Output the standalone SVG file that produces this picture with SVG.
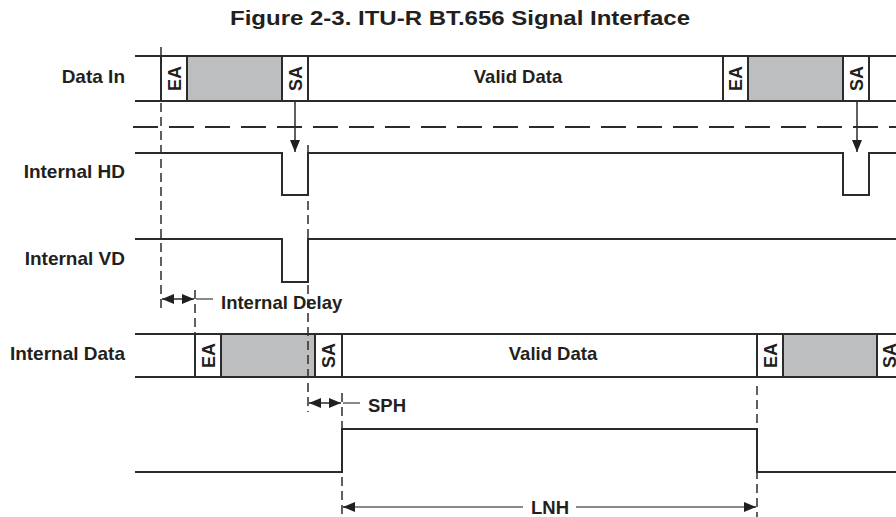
<svg xmlns="http://www.w3.org/2000/svg" width="896" height="517" viewBox="0 0 896 517">
<defs>
<marker id="ah" markerUnits="userSpaceOnUse" markerWidth="12" markerHeight="10" refX="12" refY="5" orient="auto-start-reverse"><path d="M0,0 L12,5 L0,10 z" fill="#231f20"/></marker>
<style>
.t{font-family:"Liberation Sans",Arial,sans-serif;font-weight:bold;font-size:18.5px;fill:#231f20}
.lbl{text-anchor:end;font-size:19px}
.box{font-size:18px;text-anchor:middle}
.sig{fill:none;stroke:#2b2b2b;stroke-width:2}
.v{stroke:#2b2b2b;stroke-width:2}
.gray{fill:#bcbec0}
.dash{fill:none;stroke:#2b2b2b;stroke-width:1.5;stroke-dasharray:9 5}
.hdash{fill:none;stroke:#2b2b2b;stroke-width:2;stroke-dasharray:25 11}
.arr{fill:none;stroke:#2b2b2b;stroke-width:1.5}
.dim{fill:none;stroke:#8a8a8a;stroke-width:2}
</style>
</defs>
<rect width="896" height="517" fill="#fff"/>
<g id="title"><text class="t" x="230" y="25" style="font-size:20.5px" textLength="460" lengthAdjust="spacingAndGlyphs">Figure 2-3. ITU-R BT.656 Signal Interface</text></g>

<g id="data-in">
<text class="t lbl" x="125" y="83">Data In</text>
<rect class="gray" x="187" y="56" width="95" height="45"/>
<rect class="gray" x="748" y="56" width="95" height="45"/>
<line class="sig" x1="135" y1="56" x2="896" y2="56"/>
<line class="sig" x1="135" y1="101" x2="896" y2="101"/>
<path class="v" d="M161,56V101M187,56V101M282,56V101M308,56V101M723,56V101M748,56V101M843,56V101M869,56V101"/>
<text class="t box" transform="translate(180.5,78.5) rotate(-90)">EA</text>
<text class="t box" transform="translate(301.5,78.5) rotate(-90)">SA</text>
<text class="t box" transform="translate(742,78.5) rotate(-90)">EA</text>
<text class="t box" transform="translate(862.5,78.5) rotate(-90)">SA</text>
<text class="t" x="518" y="83" text-anchor="middle">Valid Data</text>
</g>

<g id="internal-hd">
<text class="t lbl" x="125" y="178">Internal HD</text>
<path class="sig" d="M135,153H282V195H308V153H843V195H869V153H896"/>
</g>

<g id="internal-vd">
<text class="t lbl" x="125" y="265">Internal VD</text>
<path class="sig" d="M135,239H282V282H308V239H896"/>
</g>

<g id="internal-data">
<text class="t lbl" x="125" y="360">Internal Data</text>
<rect class="gray" x="221" y="334" width="94" height="43"/>
<rect class="gray" x="783" y="334" width="94" height="43"/>
<line class="sig" x1="135" y1="334" x2="896" y2="334"/>
<line class="sig" x1="135" y1="377" x2="896" y2="377"/>
<path class="v" d="M195,334V377M221,334V377M315,334V377M342,334V377M757,334V377M783,334V377M877,334V377"/>
<text class="t box" transform="translate(214.5,355.5) rotate(-90)">EA</text>
<text class="t box" transform="translate(335,355.5) rotate(-90)">SA</text>
<text class="t box" transform="translate(776.5,355.5) rotate(-90)">EA</text>
<text class="t box" transform="translate(895.5,355.5) rotate(-90)">SA</text>
<text class="t" x="553" y="360" text-anchor="middle">Valid Data</text>
</g>

<g id="line-pulse">
<path class="sig" d="M135,472H342V429H757V472H896"/>
</g>

<g id="connectors">
<line class="hdash" x1="133" y1="127" x2="896" y2="127"/>
<line class="dash" x1="161" y1="47" x2="161" y2="308"/>
<line class="dash" x1="195" y1="290" x2="195" y2="334"/>
<line class="dash" x1="308" y1="145" x2="308" y2="412"/>
<line class="dash" x1="342" y1="393" x2="342" y2="517"/>
<line class="dash" x1="757" y1="386" x2="757" y2="517"/>
<line class="arr" x1="295" y1="101" x2="295" y2="152" marker-end="url(#ah)"/>
<line class="arr" x1="857" y1="101" x2="857" y2="152" marker-end="url(#ah)"/>
<line class="arr" x1="162" y1="299" x2="194" y2="299" marker-start="url(#ah)" marker-end="url(#ah)"/>
<line class="dim" x1="196" y1="299" x2="213" y2="299"/>
<text class="t" x="221" y="309">Internal Delay</text>
<line class="arr" x1="309" y1="403" x2="341" y2="403" marker-start="url(#ah)" marker-end="url(#ah)"/>
<line class="dim" x1="343" y1="403" x2="360" y2="403"/>
<text class="t" x="368" y="412">SPH</text>
<line class="dim" x1="350" y1="507" x2="523" y2="507"/>
<line class="dim" x1="576" y1="507" x2="748" y2="507"/>
<line class="arr" x1="343" y1="507" x2="355" y2="507" marker-start="url(#ah)"/>
<line class="arr" x1="744" y1="507" x2="756" y2="507" marker-end="url(#ah)"/>
<text class="t" x="550" y="514" text-anchor="middle">LNH</text>
</g>
</svg>
